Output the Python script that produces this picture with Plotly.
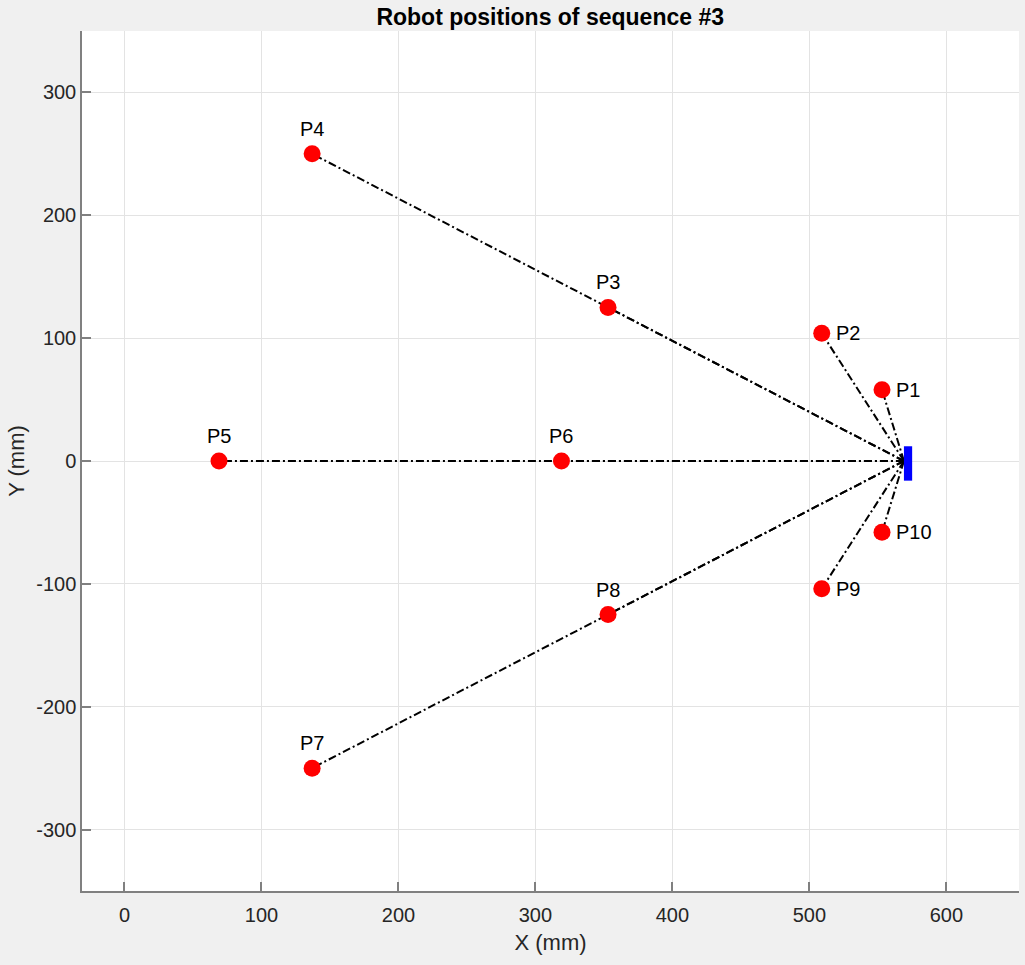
import plotly.graph_objects as go

# Data
labels = ["P1", "P2", "P3", "P4", "P5", "P6", "P7", "P8", "P9", "P10"]
pos_x = [553, 509, 353, 137, 69, 319, 137, 353, 509, 553]
pos_y = [58, 104, 125, 250, 0, 0, -250, -125, -104, -58]
label_side = ["right", "right", "top", "top", "top", "top", "top", "top", "right", "right"]
robot_x = 569
robot_y = 0
robot_box = dict(x0=569, x1=575, y0=-16, y1=12)

x_ticks = [0, 100, 200, 300, 400, 500, 600]
y_ticks = [-300, -200, -100, 0, 100, 200, 300]

FONT = "Arial, Liberation Sans, sans-serif"

fig = go.Figure()

# Dash-dot lines from the robot to each position (drawn from the robot so that
# collinear segments share the same dash phase)
for x, y in zip(pos_x, pos_y):
    fig.add_trace(go.Scatter(x=[robot_x, x], y=[robot_y, y], mode="lines",
                             line=dict(color="black", width=2, dash="8px,3px,2px,3px"),
                             hoverinfo="skip", showlegend=False))

fig.add_shape(type="rect", xref="x", yref="y", **robot_box,
              fillcolor="#0000ff", line=dict(width=0))

fig.add_trace(go.Scatter(x=pos_x, y=pos_y, mode="markers",
                         marker=dict(color="#ff0000", size=17, line=dict(width=0)),
                         showlegend=False))

for lab, x, y, side in zip(labels, pos_x, pos_y, label_side):
    if side == "top":
        fig.add_annotation(x=x, y=y, text=lab, showarrow=False, xanchor="center",
                           yanchor="middle", yshift=25,
                           font=dict(size=20, color="black", family=FONT))
    else:
        fig.add_annotation(x=x, y=y, text=lab, showarrow=False, xanchor="left",
                           yanchor="middle", xshift=12,
                           font=dict(size=20, color="black", family=FONT))

axis_common = dict(showgrid=True, gridcolor="#e3e3e3", gridwidth=1,
                   showline=True, linecolor="#808080", linewidth=1.5,
                   ticks="inside", ticklen=9, tickcolor="#808080", tickwidth=1.5,
                   zeroline=False, mirror=False,
                   tickfont=dict(size=20, color="#262626", family=FONT))

fig.update_xaxes(range=[-31, 653], tickvals=x_ticks, ticktext=[str(v) for v in x_ticks],
                 ticklabelstandoff=5,
                 title=dict(text="X (mm)", font=dict(size=22, color="#262626", family=FONT),
                            standoff=10),
                 **axis_common)
fig.update_yaxes(range=[-350, 350], tickvals=y_ticks, ticktext=[str(v) for v in y_ticks],
                 title=dict(text="Y (mm)", font=dict(size=22, color="#262626", family=FONT),
                            standoff=6),
                 **axis_common)

fig.update_layout(
    width=1025, height=965,
    margin=dict(l=82, r=6, t=31, b=74),
    paper_bgcolor="#f0f0f0", plot_bgcolor="#ffffff",
    title=dict(text="<b>Robot positions of sequence #3</b>", x=0.5368, xanchor="center",
               y=0.982, yanchor="middle",
               font=dict(size=23, color="black", family=FONT)),
    showlegend=False,
)

fig.write_html("out.html")
